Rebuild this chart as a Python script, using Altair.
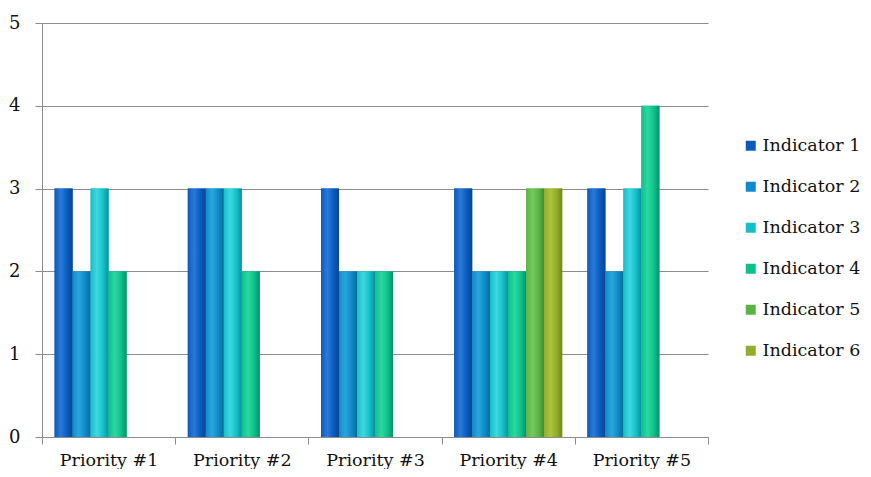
import altair as alt
import pandas as pd

priorities = ["Priority #1", "Priority #2", "Priority #3", "Priority #4", "Priority #5"]
indicators = ["Indicator 1", "Indicator 2", "Indicator 3", "Indicator 4", "Indicator 5", "Indicator 6"]
colors = ["#0b5bbf", "#0e8bc8", "#13c0c9", "#0cc18a", "#5ab445", "#93ad2b"]
light = ["#2a7ad8", "#2aa6de", "#3fd8de", "#2cd8a2", "#74c95c", "#aac43e"]
dark = ["#08458f", "#0a6a9a", "#0d9099", "#08906a", "#3f8a30", "#6e8420"]

values = {
    "Indicator 1": [3, 3, 3, 3, 3],
    "Indicator 2": [2, 3, 2, 2, 2],
    "Indicator 3": [3, 3, 2, 2, 3],
    "Indicator 4": [2, 2, 2, 2, 4],
    "Indicator 5": [None, None, None, 3, None],
    "Indicator 6": [None, None, None, 3, None],
}

rows = []
for ind in indicators:
    for p, v in zip(priorities, values[ind]):
        if v is not None:
            rows.append({"Priority": p, "Indicator": ind, "Value": v})
df = pd.DataFrame(rows)

FONT = "DejaVu Serif"

x = alt.X("Priority:N", sort=priorities, title=None,
          scale=alt.Scale(paddingInner=0, paddingOuter=0),
          axis=alt.Axis(labelAngle=0, tickBand="extent", grid=False,
                        domainColor="#8c8c8c", tickColor="#8c8c8c", tickSize=7,
                        labelFont=FONT, labelFontSize=17.5, labelColor="#111111",
                        labelPadding=7))
xo = alt.XOffset("Indicator:N", sort=indicators,
                 scale=alt.Scale(domain=indicators, paddingInner=0, paddingOuter=0.7))
y = alt.Y("Value:Q", title=None,
          scale=alt.Scale(domain=[0, 5], nice=False),
          axis=alt.Axis(values=[0, 1, 2, 3, 4, 5], format="d", grid=True,
                        gridColor="#8c8c8c", domainColor="#8c8c8c", tickColor="#8c8c8c",
                        tickSize=7, labelPadding=15, labelFont=FONT, labelFontSize=18,
                        labelColor="#111111"))

base = alt.Chart(df).mark_bar().encode(
    x=x, xOffset=xo, y=y,
    color=alt.Color("Indicator:N", sort=indicators,
                    scale=alt.Scale(domain=indicators, range=colors),
                    legend=alt.Legend(title=None, orient="none", legendX=700, legendY=114,
                                      symbolType="square", symbolSize=100,
                                      symbolStrokeWidth=0, symbolOpacity=1,
                                      labelFont=FONT, labelFontSize=17.5, labelColor="#111111",
                                      rowPadding=22, labelOffset=3)),
)

layers = [base]
for ind, c, l, d in zip(indicators, colors, light, dark):
    grad = alt.Gradient(gradient="linear", x1=0, x2=1, y1=0, y2=0,
                        stops=[alt.GradientStop(color=c, offset=0),
                               alt.GradientStop(color=l, offset=0.35),
                               alt.GradientStop(color=c, offset=0.7),
                               alt.GradientStop(color=d, offset=1)])
    layers.append(
        alt.Chart(df).transform_filter(alt.datum.Indicator == ind)
        .mark_bar(color=grad).encode(x=x, xOffset=xo, y=y)
    )

chart = alt.layer(*layers).properties(
    width=666, height=414,
    autosize=alt.AutoSizeParams(type="none"),
    padding={"left": 34, "top": 15, "right": 155, "bottom": 32},
    background="#ffffff",
).configure_view(stroke=None)

chart.save("out.html", embed_options={"renderer": "svg", "actions": False})
